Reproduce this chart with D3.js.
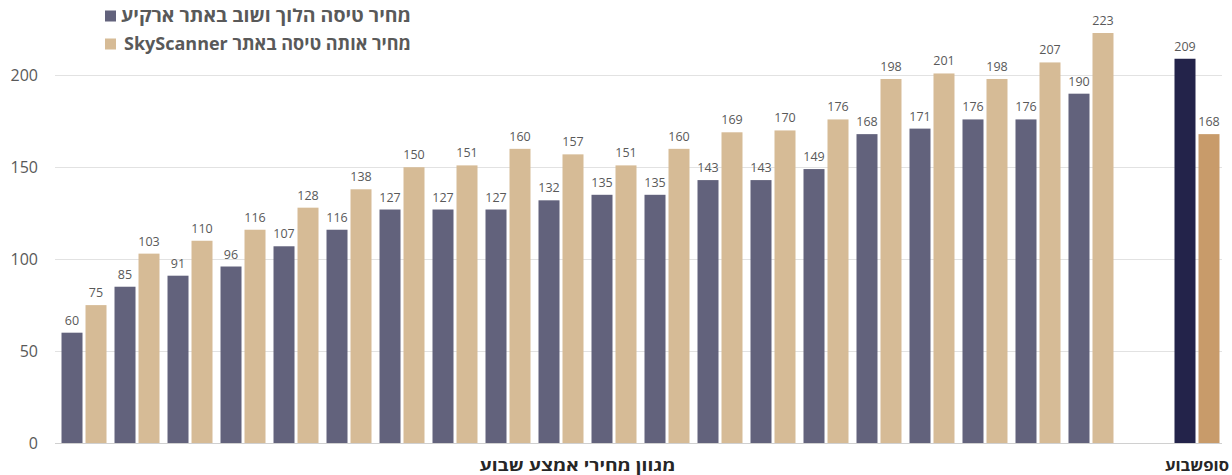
<!DOCTYPE html>
<html><head><meta charset="utf-8">
<script src="https://cdn.jsdelivr.net/npm/d3@7"></script>
<style>body{margin:0;background:#fff}svg{display:block;font-family:"Open Sans","DejaVu Sans",sans-serif}</style>
</head><body><svg id="c" width="1232" height="475"></svg>
<script>
const seriesNames = ["מחיר טיסה הלוך ושוב באתר ארקיע", "מחיר אותה טיסה באתר SkyScanner"];
const midweekArkia = [60,85,91,96,107,116,127,127,127,132,135,135,143,143,149,168,171,176,176,190];
const midweekSky   = [75,103,110,116,128,138,150,151,160,157,151,160,169,170,176,198,201,198,207,223];
const weekendArkia = [209];
const weekendSky   = [168];
const categoryLabels = ["מגוון מחירי אמצע שבוע", "סופשבוע"];
const yTicks = [0,50,100,150,200];

const colors = {mid:["#62627c","#d6bb96"], wk:["#23234a","#c89b6a"]};

const groups = [];
midweekArkia.forEach((v,i)=>groups.push({key:"m"+i, vals:[v, midweekSky[i]], cols:colors.mid}));
groups.push({key:"gap", vals:null});
weekendArkia.forEach((v,i)=>groups.push({key:"w"+i, vals:[v, weekendSky[i]], cols:colors.wk}));

const svg = d3.select("#c");
const baseY = 443, topY = 75.3;
const y = d3.scaleLinear().domain([0,200]).range([baseY, topY]);
const gridX0 = 55, gridX1 = 1222;
const x = d3.scaleBand().domain(groups.map(g=>g.key)).range([57,1224]).paddingInner(8/53).paddingOuter(0.085);
const xs = d3.scaleBand().domain([0,1]).range([0,x.bandwidth()]).paddingInner(0.125);

svg.append("g").selectAll("line").data(yTicks).join("line")
  .attr("x1",gridX0).attr("x2",gridX1)
  .attr("y1",d=>Math.round(y(d))+0.5).attr("y2",d=>Math.round(y(d))+0.5)
  .attr("stroke",d=>d===0?"#d0d0d0":"#e2e2e2").attr("stroke-width",1);

svg.append("g").selectAll("text").data(yTicks).join("text")
  .attr("x",38).attr("y",d=>y(d)).attr("dy","0.35em").attr("text-anchor","end")
  .attr("font-size",16).attr("fill","#595959").text(d=>d);

const gg = svg.append("g").selectAll("g").data(groups.filter(g=>g.vals)).join("g")
  .attr("transform",g=>`translate(${x(g.key)},0)`);
gg.selectAll("rect").data(g=>g.vals.map((v,i)=>({v,i,c:g.cols[i]}))).join("rect")
  .attr("x",d=>xs(d.i)).attr("width",xs.bandwidth())
  .attr("y",d=>y(d.v)).attr("height",d=>baseY-y(d.v)).attr("fill",d=>d.c);
gg.selectAll("text").data(g=>g.vals.map((v,i)=>({v,i}))).join("text")
  .attr("x",d=>xs(d.i)+xs.bandwidth()/2).attr("y",d=>y(d.v)-8)
  .attr("text-anchor","middle").attr("font-size",12.5).attr("fill","#595959").text(d=>d.v);

const midCenter = (x("m0") + x("m19") + x.bandwidth())/2 - 10;
const wkCenter = x("w0") + x.bandwidth()/2;
svg.append("text").attr("x",midCenter).attr("y",471).attr("text-anchor","middle")
  .attr("font-size",15).attr("font-weight","bold").attr("fill","#262626")
  .attr("textLength",196).attr("lengthAdjust","spacingAndGlyphs").text(categoryLabels[0]);
svg.append("text").attr("x",wkCenter).attr("y",471).attr("text-anchor","middle")
  .attr("font-size",15).attr("font-weight","bold").attr("fill","#262626")
  .attr("textLength",64).attr("lengthAdjust","spacingAndGlyphs").text(categoryLabels[1]);

const leg = svg.append("g");
seriesNames.forEach((n,i)=>{
  const cy = 16 + i*28;
  leg.append("rect").attr("x",105).attr("y",cy-5.5).attr("width",11).attr("height",11).attr("fill",colors.mid[i]);
  leg.append("text").attr("x",411).attr("y",cy).attr("dy","0.35em")
    .attr("direction","rtl").attr("text-anchor","start")
    .attr("font-size",18).attr("font-weight","bold").attr("fill","#595959")
    .attr("textLength", i===0?290:287).attr("lengthAdjust","spacingAndGlyphs").text(n);
});
</script></body></html>
